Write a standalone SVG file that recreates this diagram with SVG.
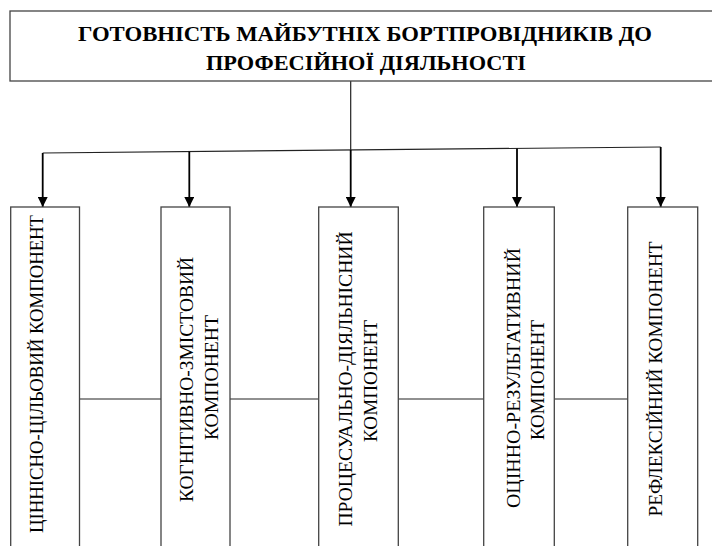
<svg xmlns="http://www.w3.org/2000/svg" width="712" height="546" viewBox="0 0 712 546">
<defs>
<style>
.box{fill:#fff;stroke:#444;stroke-width:1.3}
.title{font-family:"Times New Roman",Times,"Liberation Serif","Nimbus Roman","Nimbus Roman No9 L",FreeSerif,"Noto Serif","DejaVu Serif",serif;font-weight:bold;font-size:22px;fill:#000;text-anchor:middle}
.vt{font-family:"Times New Roman",Times,"Liberation Serif","Nimbus Roman","Nimbus Roman No9 L",FreeSerif,"Noto Serif","DejaVu Serif",serif;font-size:19px;fill:#000;text-anchor:middle}
.conn{fill:none;stroke:#000;stroke-width:1.8}
.thin{fill:none;stroke:#222;stroke-width:1.2}
</style>
<marker id="arr" viewBox="0 0 10 10" refX="10" refY="5" markerWidth="10" markerHeight="10" markerUnits="userSpaceOnUse" orient="auto">
<path d="M0,0 L10,5 L0,10 Z" fill="#000"/>
</marker>
</defs>
<rect width="712" height="546" fill="#fff"/>
<g id="connectors">
<line class="thin" x1="350.7" y1="81" x2="350.7" y2="150"/>
<polyline class="thin" points="42.7,153 660.7,147"/>
<polyline class="conn" points="42.7,153 42.7,207" marker-end="url(#arr)"/>
<line class="conn" x1="189.3" y1="151.6" x2="189.3" y2="207" marker-end="url(#arr)"/>
<line class="conn" x1="350.7" y1="150" x2="350.7" y2="207" marker-end="url(#arr)"/>
<line class="conn" x1="517" y1="148.4" x2="517" y2="207" marker-end="url(#arr)"/>
<line class="conn" x1="660.7" y1="147" x2="660.7" y2="207" marker-end="url(#arr)"/>
<line class="thin" x1="79.5" y1="399" x2="161" y2="399"/>
<line class="thin" x1="230" y1="399" x2="318.7" y2="399"/>
<line class="thin" x1="398.3" y1="399" x2="483.7" y2="399"/>
<line class="thin" x1="554.3" y1="399" x2="627.7" y2="399"/>
</g>
<g id="title">
<rect class="box" x="10" y="11" width="706" height="70"/>
<text class="title" x="365" y="40.5" textLength="574" lengthAdjust="spacingAndGlyphs">ГОТОВНІСТЬ МАЙБУТНІХ БОРТПРОВІДНИКІВ ДО</text>
<text class="title" x="366" y="70" textLength="320" lengthAdjust="spacingAndGlyphs">ПРОФЕСІЙНОЇ ДІЯЛЬНОСТІ</text>
</g>
<g id="node1">
<rect class="box" x="10.7" y="207" width="68.8" height="345"/>
<text class="vt" transform="translate(43,374) rotate(-90)" textLength="318" lengthAdjust="spacingAndGlyphs">ЦІННІСНО-ЦІЛЬОВИЙ КОМПОНЕНТ</text>
</g>
<g id="node2">
<rect class="box" x="161" y="207" width="69" height="345"/>
<text class="vt" transform="translate(193,379.5) rotate(-90)" textLength="245" lengthAdjust="spacingAndGlyphs">КОГНІТИВНО-ЗМІСТОВИЙ</text>
<text class="vt" transform="translate(218,377.5) rotate(-90)" textLength="125" lengthAdjust="spacingAndGlyphs">КОМПОНЕНТ</text>
</g>
<g id="node3">
<rect class="box" x="318.7" y="207" width="79.6" height="345"/>
<text class="vt" transform="translate(351.5,379) rotate(-90)" textLength="295" lengthAdjust="spacingAndGlyphs">ПРОЦЕСУАЛЬНО-ДІЯЛЬНІСНИЙ</text>
<text class="vt" transform="translate(376.5,381) rotate(-90)" textLength="122" lengthAdjust="spacingAndGlyphs">КОМПОНЕНТ</text>
</g>
<g id="node4">
<rect class="box" x="483.7" y="207" width="70.6" height="345"/>
<text class="vt" transform="translate(519.5,378) rotate(-90)" textLength="260" lengthAdjust="spacingAndGlyphs">ОЦІННО-РЕЗУЛЬТАТИВНИЙ</text>
<text class="vt" transform="translate(544,380) rotate(-90)" textLength="120" lengthAdjust="spacingAndGlyphs">КОМПОНЕНТ</text>
</g>
<g id="node5">
<rect class="box" x="627.7" y="207" width="70" height="345"/>
<text class="vt" transform="translate(662,379) rotate(-90)" textLength="275" lengthAdjust="spacingAndGlyphs">РЕФЛЕКСІЙНИЙ КОМПОНЕНТ</text>
</g>
</svg>
